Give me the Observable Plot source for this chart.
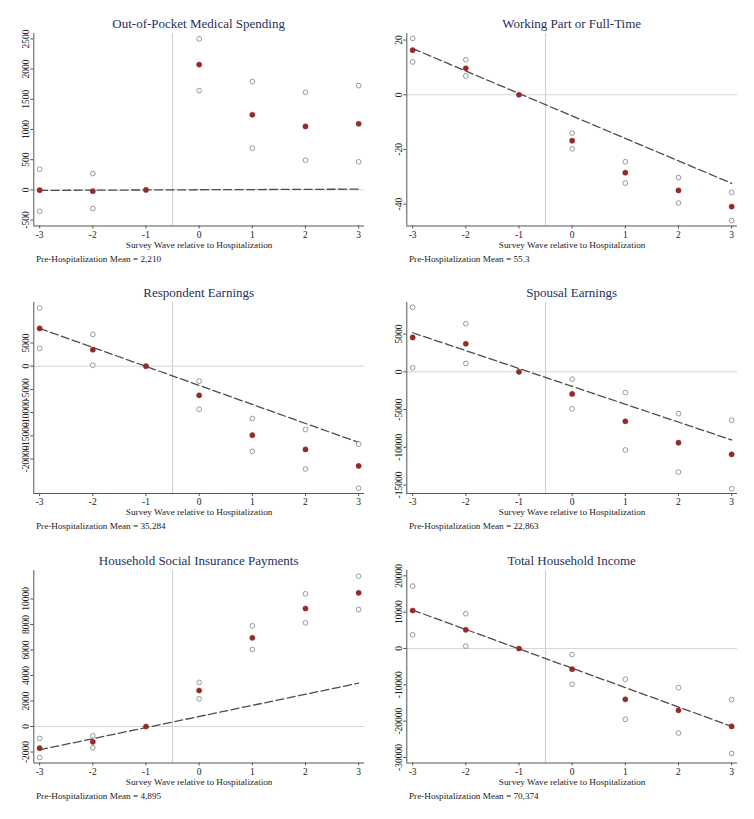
<!DOCTYPE html>
<html>
<head>
<meta charset="utf-8">
<script src="https://cdn.jsdelivr.net/npm/d3@7"></script>
<script src="https://cdn.jsdelivr.net/npm/@observablehq/plot@0.6"></script>
<style>
  body { margin: 0; background: #fff; }
  #root { position: relative; width: 754px; height: 819px; background: #fff; overflow: hidden;
          font-family: "Liberation Serif", "Times New Roman", serif; }
  .ttl { position: absolute; text-align: center; font-size: 13px; line-height: 16px; color: #25305c; white-space: nowrap; }
  .note { position: absolute; font-size: 9.2px; line-height: 11px; color: #222; white-space: nowrap; }
  .pnl { position: absolute; }
</style>
</head>
<body>
<div id="root"></div>
<script>
// ---- data ----
const waves = [-3, -2, -1, 0, 1, 2, 3];
const xLabel = "Survey Wave relative to Hospitalization";

const titles = [
  "Out-of-Pocket Medical Spending",
  "Working Part or Full-Time",
  "Respondent Earnings",
  "Spousal Earnings",
  "Household Social Insurance Payments",
  "Total Household Income"
];
const notes = [
  "Pre-Hospitalization Mean = 2,210",
  "Pre-Hospitalization Mean = 55.3",
  "Pre-Hospitalization Mean = 35,284",
  "Pre-Hospitalization Mean = 22,863",
  "Pre-Hospitalization Mean = 4,895",
  "Pre-Hospitalization Mean = 70,374"
];

// point estimates and confidence bounds
const oopEst   = [-5, -22, 0, 2074, 1244, 1051, 1095];
const oopHi    = [343, 271, null, 2500, 1792, 1615, 1726];
const oopLo    = [-354, -310, null, 1643, 691, 492, 465];
const oopTrend = [-8, 12];
const oopTicks = [-500, 0, 500, 1000, 1500, 2000, 2500];

const workEst   = [16.3, 9.7, 0, -16.8, -28.5, -35.0, -40.9];
const workHi    = [20.6, 12.8, null, -14.0, -24.5, -30.3, -35.7];
const workLo    = [12.0, 6.9, null, -19.8, -32.3, -39.6, -46.0];
const workTrend = [16.9, -32.4];
const workTicks = [-40, -20, 0, 20];

const respEst   = [8143, 3571, 0, -6286, -14857, -17929, -21500];
const respHi    = [12571, 6857, null, -3214, -11286, -13643, -16786];
const respLo    = [3857, 214, null, -9286, -18357, -22143, -26286];
const respTrend = [8143, -16429];
const respTicks = [-20000, -15000, -10000, -5000, 0, 5000];

const spouseEst   = [4558, 3717, 0, -2920, -6549, -9381, -10929];
const spouseHi    = [8540, 6372, null, -973, -2743, -5531, -6416];
const spouseLo    = [531, 1106, null, -4912, -10354, -13274, -15487];
const spouseTrend = [5177, -9027];
const spouseTicks = [-15000, -10000, -5000, 0, 5000];

const hsiEst   = [-1699, -1203, 0, 2824, 6954, 9255, 10484];
const hsiHi    = [-941, -732, null, 3451, 7895, 10405, 11791];
const hsiLo    = [-2431, -1673, null, 2170, 6039, 8131, 9176];
const hsiTrend = [-1830, 3399];
const hsiTicks = [-2000, 0, 2000, 4000, 6000, 8000, 10000];

const incEst   = [10460, 5152, 0, -5704, -13983, -17019, -21435];
const incHi    = [17160, 9568, null, -1656, -8464, -10764, -14075];
const incLo    = [3760, 644, null, -9844, -19503, -23275, -28887];
const incTrend = [10580, -21435];
const incTicks = [-30000, -20000, -10000, 0, 10000, 20000];

// y extents of each plot region
const oopDomain    = [-598, 2589];
const workDomain   = [-48, 22.4];
const respDomain   = [-27435, 13728];
const spouseDomain = [-16115, 9183];
const hsiDomain    = [-2863, 12235];
const incDomain    = [-31514, 21468];

// ---- layout ----
const rowTop = [33, 302, 570];
const rowBottom = [225.5, 493, 762.5];
const colLeft = [0, 377];
const colMarginLeft = [33.3, 29.3];
const colMarginRight = [13, 17];
const W = 377;
const FONT = '"Liberation Serif", "Times New Roman", serif';

const panels = [
  {est: oopEst, hi: oopHi, lo: oopLo, trend: oopTrend, ticks: oopTicks, domain: oopDomain},
  {est: workEst, hi: workHi, lo: workLo, trend: workTrend, ticks: workTicks, domain: workDomain},
  {est: respEst, hi: respHi, lo: respLo, trend: respTrend, ticks: respTicks, domain: respDomain},
  {est: spouseEst, hi: spouseHi, lo: spouseLo, trend: spouseTrend, ticks: spouseTicks, domain: spouseDomain},
  {est: hsiEst, hi: hsiHi, lo: hsiLo, trend: hsiTrend, ticks: hsiTicks, domain: hsiDomain},
  {est: incEst, hi: incHi, lo: incLo, trend: incTrend, ticks: incTicks, domain: incDomain}
];

const root = document.getElementById("root");
const xDomain = [-3.11, 3.11];

panels.forEach((p, i) => {
  const r = Math.floor(i / 2), c = i % 2;
  const top = rowTop[r], bottom = rowBottom[r];
  const mT = 4, mB = 27;
  const H = bottom - top + mT + mB;
  const ml = colMarginLeft[c], mr = colMarginRight[c];

  const rows = waves.map((w, k) => ({w, est: p.est[k]}));
  const ci = [];
  waves.forEach((w, k) => {
    if (p.hi[k] != null) ci.push({w, v: p.hi[k]});
    if (p.lo[k] != null) ci.push({w, v: p.lo[k]});
  });
  const trend = [{w: waves[0], v: p.trend[0]}, {w: waves[waves.length - 1], v: p.trend[1]}];

  const chart = Plot.plot({
    width: W, height: H,
    marginLeft: ml, marginRight: mr, marginTop: mT, marginBottom: mB,
    x: {domain: xDomain, label: null},
    y: {domain: p.domain, label: null},
    style: {fontFamily: FONT, fontSize: "9px", color: "#222", background: "transparent", overflow: "visible"},
    marks: [
      Plot.ruleY([0], {stroke: "#d6d6d6", strokeWidth: 1}),
      Plot.ruleX([-0.5], {stroke: "#cccccc", strokeWidth: 1}),
      Plot.line(trend, {x: "w", y: "v", stroke: "#4d4d4d", strokeWidth: 1.3, strokeDasharray: "8,3.5"}),
      Plot.dot(ci, {x: "w", y: "v", r: 2.4, stroke: "#8e8e8e", strokeWidth: 0.9, fill: "white"}),
      Plot.dot(rows, {x: "w", y: "est", r: 2.6, fill: "#922b2f", stroke: "#922b2f", strokeWidth: 0.5}),
      Plot.ruleX([xDomain[0]], {stroke: "#555", strokeWidth: 1}),
      Plot.ruleY([p.domain[0]], {stroke: "#555", strokeWidth: 1}),
      Plot.axisX({ticks: waves, tickSize: 3, tickPadding: 2, tickFormat: d => String(d), label: null, stroke: "#555", fill: "#222", fontSize: 9.5}),
      Plot.axisY({ticks: p.ticks, tickSize: 3, tickPadding: 2, tickRotate: -90, tickFormat: d => String(d), label: null, stroke: "#555", fill: "#222", fontSize: 9.5}),
      Plot.text([xLabel], {frameAnchor: "bottom", dy: 21.5, fontSize: 9.2, fill: "#222"})
    ]
  });

  const wrap = document.createElement("div");
  wrap.className = "pnl";
  wrap.style.left = colLeft[c] + "px";
  wrap.style.top = (top - mT) + "px";
  wrap.appendChild(chart);
  root.appendChild(wrap);

  const t = document.createElement("div");
  t.className = "ttl";
  t.textContent = titles[i];
  t.style.left = (colLeft[c] + ml) + "px";
  t.style.width = (W - ml - mr) + "px";
  t.style.top = (top - 9 - 8) + "px";
  root.appendChild(t);

  const n = document.createElement("div");
  n.className = "note";
  n.textContent = notes[i];
  n.style.left = (colLeft[c] + ml + 2.7) + "px";
  n.style.top = (bottom + 33.5 - 5.5) + "px";
  root.appendChild(n);
});
</script>
</body>
</html>
